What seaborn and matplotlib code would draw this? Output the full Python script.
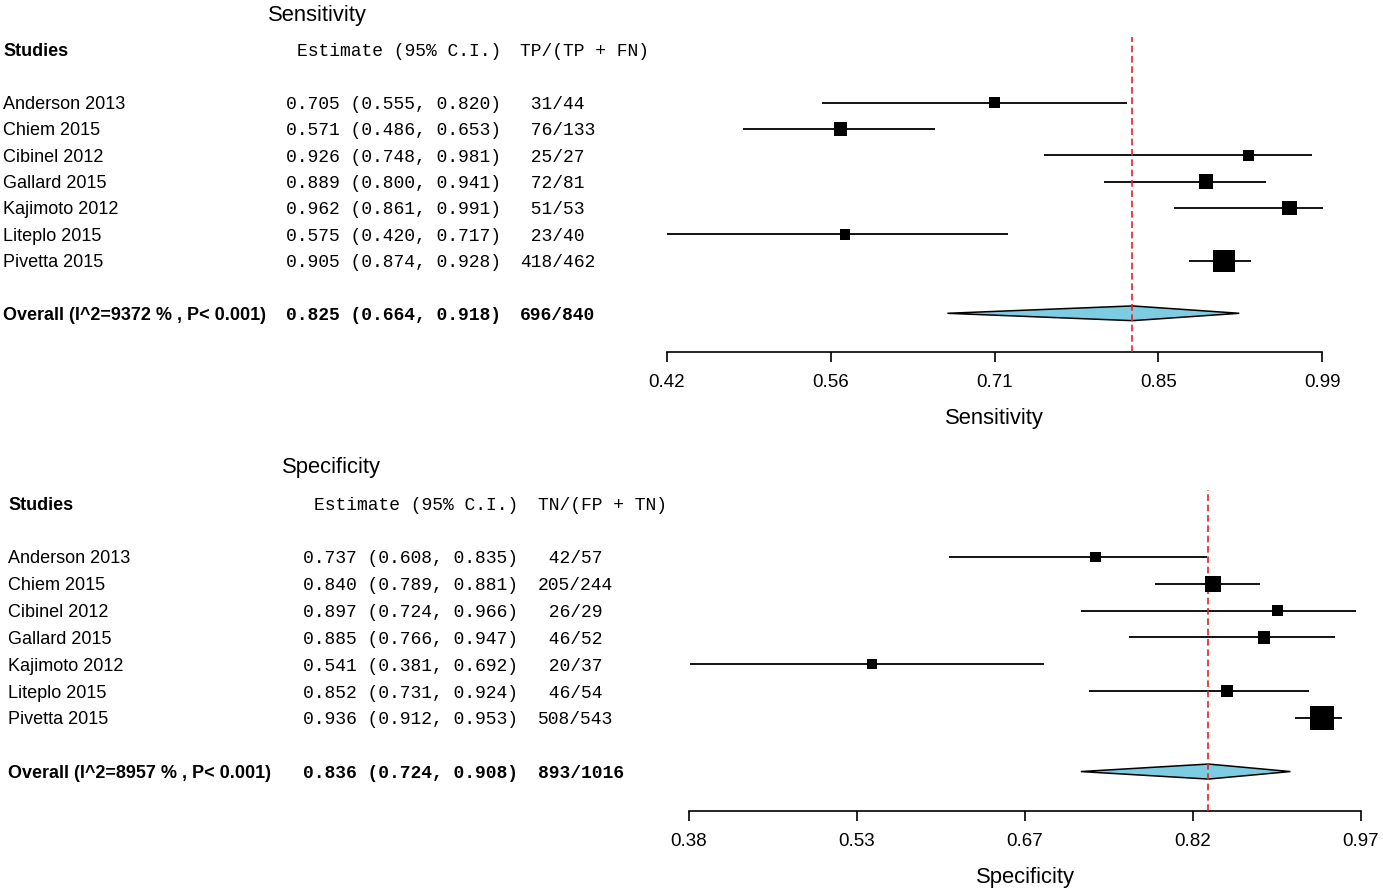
import numpy as np
import pandas as pd
import seaborn as sns
import matplotlib.pyplot as plt
from matplotlib.transforms import blended_transform_factory, offset_copy

# ---- data ----
studies = ["Anderson 2013", "Chiem 2015", "Cibinel 2012", "Gallard 2015",
           "Kajimoto 2012", "Liteplo 2015", "Pivetta 2015"]

sens_est = [0.705, 0.571, 0.926, 0.889, 0.962, 0.575, 0.905]
sens_lo = [0.555, 0.486, 0.748, 0.800, 0.861, 0.420, 0.874]
sens_hi = [0.820, 0.653, 0.981, 0.941, 0.991, 0.717, 0.928]
sens_tp = [31, 76, 25, 72, 51, 23, 418]
sens_n = [44, 133, 27, 81, 53, 40, 462]
sens_weight = [8.4, 11.7, 9.0, 14.6, 15.2, 7.4, 33.6]  # relative box area (%)
sens_overall = [0.825, 0.664, 0.918]
sens_total = [696, 840]
sens_label = "Overall (I^2=9372 % , P< 0.001)"
sens_lims = [0.42, 0.99]
sens_ticklabels = ["0.42", "0.56", "0.71", "0.85", "0.99"]

spec_est = [0.737, 0.840, 0.897, 0.885, 0.541, 0.852, 0.936]
spec_lo = [0.608, 0.789, 0.724, 0.766, 0.381, 0.731, 0.912]
spec_hi = [0.835, 0.881, 0.966, 0.947, 0.692, 0.924, 0.953]
spec_tn = [42, 205, 26, 46, 20, 46, 508]
spec_n = [57, 244, 29, 52, 37, 54, 543]
spec_weight = [7.9, 17.9, 8.5, 10.2, 7.0, 9.7, 38.8]
spec_overall = [0.836, 0.724, 0.908]
spec_total = [893, 1016]
spec_label = "Overall (I^2=8957 % , P< 0.001)"
spec_lims = [0.38, 0.97]
spec_ticklabels = ["0.38", "0.53", "0.67", "0.82", "0.97"]

sns.set_style("white")
plt.rcParams["font.family"] = ["Liberation Sans", "DejaVu Sans"]
plt.rcParams["text.color"] = "black"
plt.rcParams["axes.labelcolor"] = "black"
plt.rcParams["xtick.color"] = "black"
MONO = ["Liberation Mono", "DejaVu Sans Mono"]

W, H = 1383, 891
fig = plt.figure(figsize=(W / 100, H / 100), dpi=100)

Y_TOP, Y_BOT = -2.5, 9.47


def panel(ax_px, row_px, est, lo, hi, num, den, weight, overall, total,
          ov_label, lims, ticklabels, title, xlabel, count_head, cols):
    left, right, axis_y = ax_px
    first_row = axis_y - (Y_BOT * row_px)
    top_y = first_row + Y_TOP * row_px
    ax = fig.add_axes([left / W, (H - axis_y) / H, (right - left) / W,
                       (axis_y - top_y) / H])
    rows = np.arange(len(est))
    df = pd.DataFrame({"est": est, "row": rows, "w": weight})

    ax.hlines(rows, lo, hi, color="black", lw=1.3, zorder=2, clip_on=False)
    ov_row = len(est) + 1
    d = 0.28
    ax.fill([overall[1], overall[0], overall[2], overall[0]],
            [ov_row, ov_row - d, ov_row, ov_row + d],
            facecolor="#7ecce2", edgecolor="black", lw=1.1, zorder=2)
    ax.axvline(overall[0], color="#e8202a", lw=1.2, ls=(0, (4, 2.2)), zorder=3)
    sns.scatterplot(data=df, x="est", y="row", size="w", sizes=(0, 760),
                    size_norm=(0, 100), marker="s", color="black",
                    linewidth=0, legend=False, ax=ax, zorder=4, clip_on=False)

    ax.set_xlim(lims)
    ax.set_ylim(Y_BOT, Y_TOP)
    ax.set_yticks([])
    ax.set_xticks(np.linspace(lims[0], lims[1], len(ticklabels)))
    ax.set_xticklabels(ticklabels, fontsize=13.5)
    ax.tick_params(axis="x", bottom=True, direction="out", length=7,
                   width=1.2, pad=8.5, colors="black")
    ax.set_xlabel(xlabel, fontsize=15.8, labelpad=12.5)
    ax.set_ylabel("")
    sns.despine(ax=ax, left=True)
    ax.spines["bottom"].set_bounds(lims[0], lims[1])
    ax.spines["bottom"].set_linewidth(1.2)
    ax.spines["bottom"].set_color("black")

    name_x, est_x, cnt_x, title_x = (c / W for c in cols)
    tr = blended_transform_factory(fig.transFigure, ax.transData)
    tr = offset_copy(tr, fig=fig, y=-2, units="dots")
    kw = dict(transform=tr, va="center", clip_on=False, fontsize=13)
    ax.text(title_x, -3.4, title, ha="center", **{**kw, "fontsize": 15.8})
    ax.text(name_x, -2, "Studies", ha="left", weight="bold", **kw)
    ax.text(est_x, -2, "Estimate (95% C.I.)", ha="right", family=MONO, **kw)
    ax.text(cnt_x, -2, count_head, ha="left", family=MONO, **kw)
    for r, s in enumerate(studies):
        ax.text(name_x, r, s, ha="left", **kw)
        ax.text(est_x, r, f"{est[r]:.3f} ({lo[r]:.3f}, {hi[r]:.3f})",
                ha="right", family=MONO, **kw)
        ax.text(cnt_x, r, f"{num[r]:>3}/{den[r]:<3}", ha="left",
                family=MONO, **kw)
    ax.text(name_x, ov_row, ov_label, ha="left", weight="bold", **kw)
    ax.text(est_x, ov_row,
            f"{overall[0]:.3f} ({overall[1]:.3f}, {overall[2]:.3f})",
            ha="right", family=MONO, weight="bold", **kw)
    ax.text(cnt_x, ov_row, f"{total[0]:>3}/{total[1]:<3}", ha="left",
            family=MONO, weight="bold", **kw)
    return ax


panel((667, 1322, 352), 26.33, sens_est, sens_lo, sens_hi, sens_tp, sens_n,
      sens_weight, sens_overall, sens_total, sens_label, sens_lims,
      sens_ticklabels, "Sensitivity", "Sensitivity", "TP/(TP + FN)",
      (3, 501, 520, 317))
panel((689, 1361, 811), 26.83, spec_est, spec_lo, spec_hi, spec_tn, spec_n,
      spec_weight, spec_overall, spec_total, spec_label, spec_lims,
      spec_ticklabels, "Specificity", "Specificity", "TN/(FP + TN)",
      (8, 518, 538, 331))

fig.savefig("out.png", dpi=100, facecolor="white")
